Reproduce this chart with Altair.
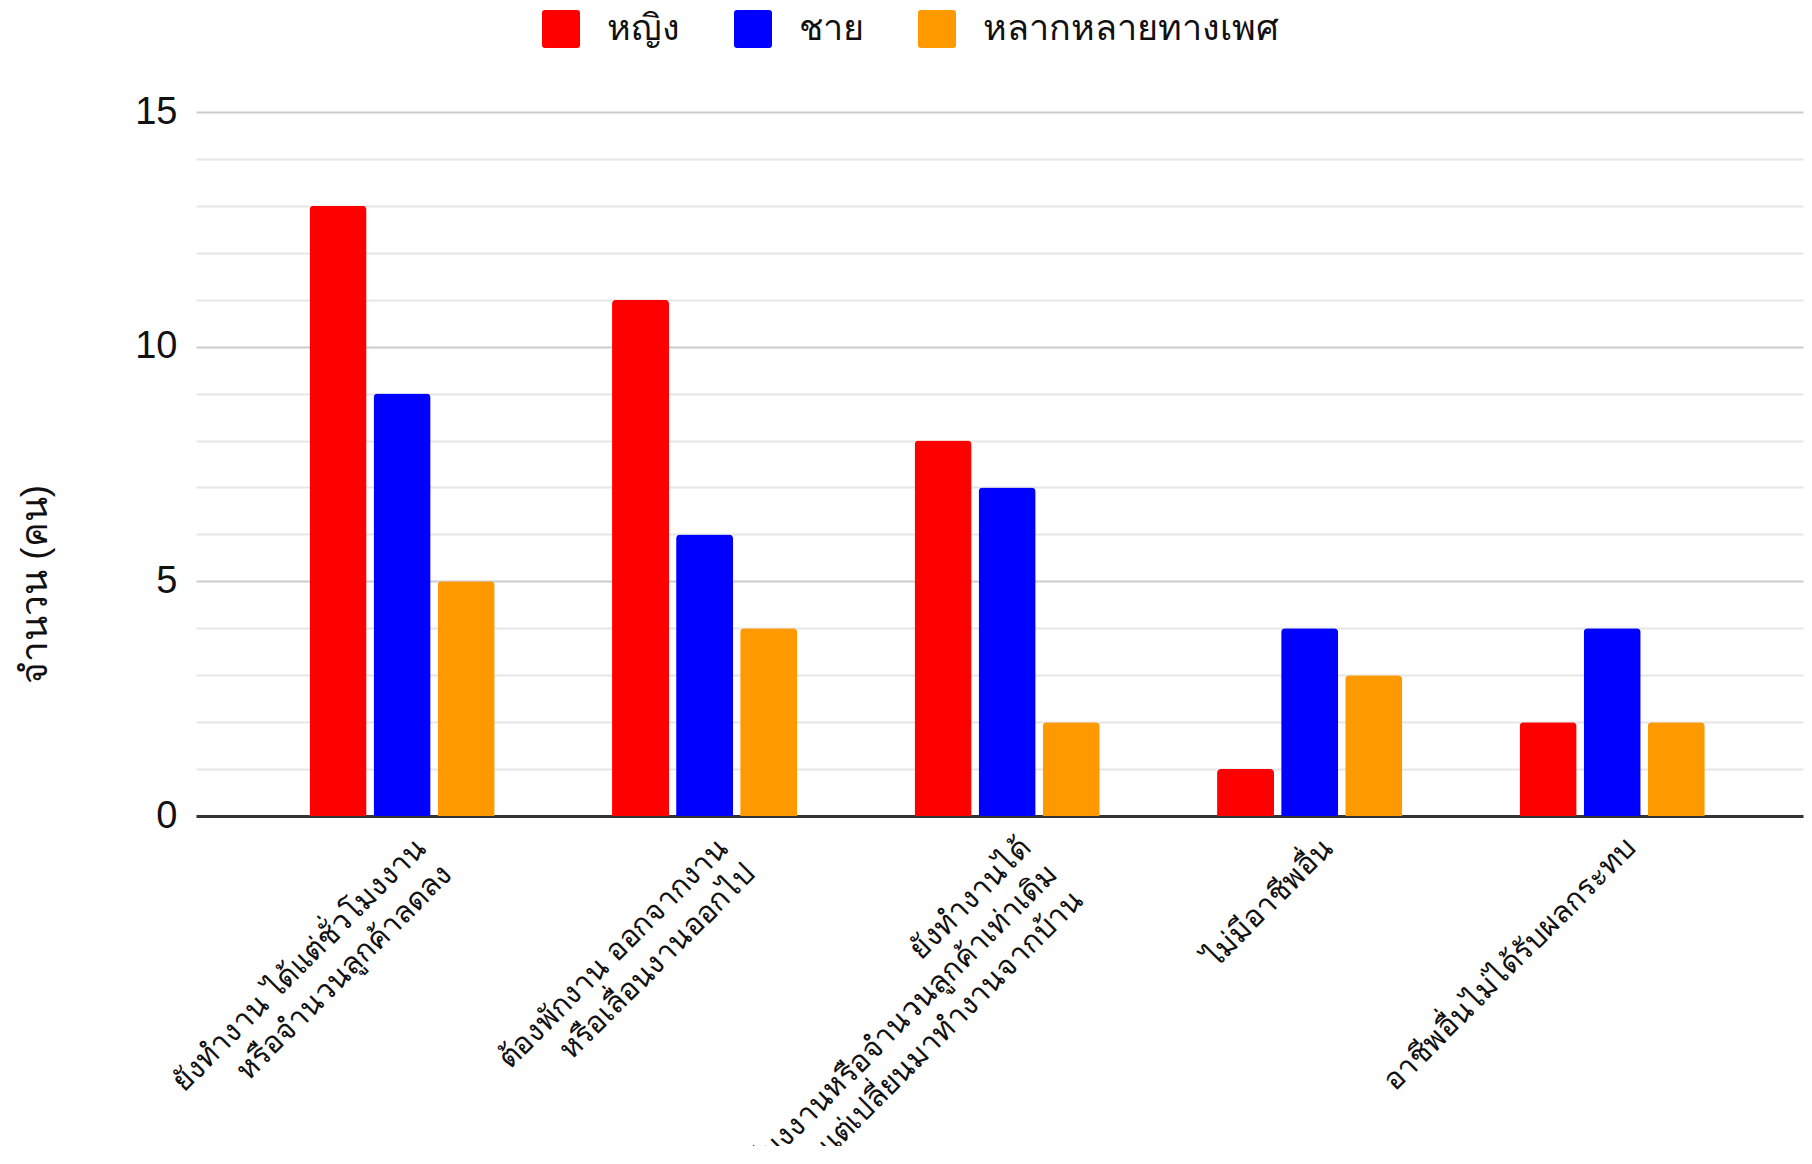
import altair as alt
import pandas as pd

categories = [
    "ยังทำงาน ได้แต่ชั่วโมงงาน|หรือจำนวนลูกค้าลดลง",
    "ต้องพักงาน ออกจากงาน|หรือเลื่อนงานออกไป",
    "ยังทำงานได้|ชั่วโมงงานหรือจำนวนลูกค้าเท่าเดิม|แต่เปลี่ยนมาทำงานจากบ้าน",
    "ไม่มีอาชีพอื่น",
    "อาชีพอื่นไม่ได้รับผลกระทบ",
]
series = ["หญิง", "ชาย", "หลากหลายทางเพศ"]
female = [13, 11, 8, 1, 2]
male = [9, 6, 7, 4, 4]
diverse = [5, 4, 2, 3, 2]
colors = ["#ff0000", "#0000ff", "#ff9900"]
y_title = "จำนวน (คน)"
grid_values = list(range(0, 16))

rows = []
for i, c in enumerate(categories):
    for s, vals in zip(series, [female, male, diverse]):
        rows.append({"cat": c, "series": s, "value": vals[i]})
df = pd.DataFrame(rows)

rounded_square = ("M -1 -0.84 Q -1 -1 -0.84 -1 L 0.84 -1 Q 1 -1 1 -0.84 "
                  "L 1 0.84 Q 1 1 0.84 1 L -0.84 1 Q -1 1 -1 0.84 Z")

FONT = "Liberation Sans"

chart = alt.Chart(df).mark_bar(
    cornerRadiusTopLeft=4, cornerRadiusTopRight=4
).encode(
    x=alt.X(
        "cat:N",
        sort=categories,
        scale=alt.Scale(paddingInner=0.388, paddingOuter=0.35, align=0.536),
        axis=alt.Axis(
            title=None,
            labelAngle=-45,
            labelAlign="right",
            labelBaseline="middle",
            labelExpr="split(datum.label, '|')",
            labelFont=FONT,
            labelFontSize=30,
            labelLineHeight=37,
            labelPadding=27,
            labelOffset=19,
            labelColor="#111111",
            labelOverlap=False,
            labelBound=False,
            labelFlush=False,
            labelLimit=0,
            ticks=False,
            domainColor="#333333",
            domainWidth=3,
            grid=False,
        ),
    ),
    xOffset=alt.XOffset(
        "series:N", sort=series,
        scale=alt.Scale(paddingInner=0.11, paddingOuter=0),
    ),
    y=alt.Y(
        "value:Q",
        scale=alt.Scale(domain=[0, 15], nice=False),
        axis=alt.Axis(
            title=y_title,
            values=grid_values,
            labelExpr="datum.value % 5 === 0 ? datum.label : ''",
            gridColor=alt.condition("datum.value % 5 === 0", alt.value("#cccccc"), alt.value("#e6e6e6")),
            gridWidth=2,
            domain=False,
            ticks=False,
            labelFont=FONT,
            labelFontSize=38,
            labelPadding=19,
            labelColor="#111111",
            labelOverlap=False,
            titleFont=FONT,
            titleFontSize=37,
            titleFontWeight="normal",
            titleColor="#111111",
            titleAngle=270,
            titleAlign="center",
            titleBaseline="middle",
            titleX=-161,
            titleY=472,
        ),
    ),
    color=alt.Color(
        "series:N",
        sort=series,
        scale=alt.Scale(domain=series, range=colors),
        legend=alt.Legend(
            title=None,
            orient="none",
            legendX=346,
            legendY=-102,
            direction="horizontal",
            symbolType=rounded_square,
            symbolSize=1444,
            symbolStrokeWidth=0,
            symbolOpacity=1,
            labelFont=FONT,
            labelFontSize=36,
            labelColor="#111111",
            labelOffset=27,
            labelLimit=0,
            columnPadding=54,
        ),
    ),
).properties(
    width=1607,
    height=704,
    padding={"left": 188, "top": 104, "right": 1, "bottom": 330},
    autosize=alt.AutoSizeParams(type="none"),
    background="white",
).configure_view(stroke=None)

chart.save("out.html", embed_options={"renderer": "svg", "actions": False})
